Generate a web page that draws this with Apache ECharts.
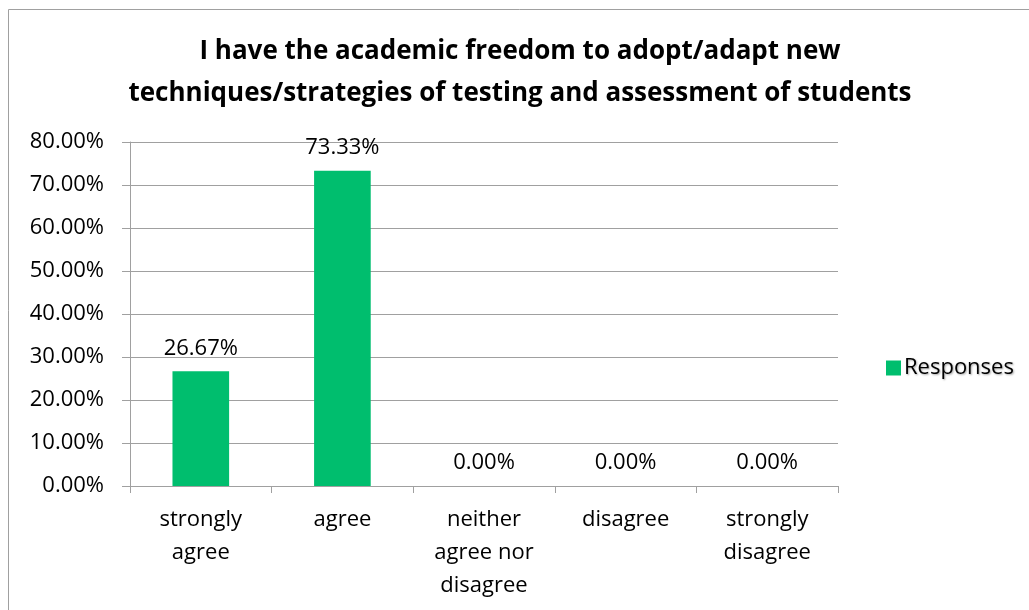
<!DOCTYPE html>
<html>
<head>
<meta charset="utf-8">
<script src="https://cdn.jsdelivr.net/npm/echarts@6/dist/echarts.min.js"></script>
<style>
html,body{margin:0;padding:0;background:#fff;}
#chart{width:1029px;height:610px;}
</style>
</head>
<body>
<div id="chart"></div>
<script>
const titleLines = ["I have the academic freedom to adopt/adapt new", "techniques/strategies of testing and assessment of students"];
const categories = ["strongly\nagree", "agree", "neither\nagree nor\ndisagree", "disagree", "strongly\ndisagree"];
const responses = [26.67, 73.33, 0, 0, 0];
const seriesName = "Responses";
const yTicks = { min: 0, max: 80, interval: 10 };

const font = "'Open Sans', 'Noto Sans', sans-serif";
const chart = echarts.init(document.getElementById('chart'));
chart.setOption({
  animation: false,
  title: {
    text: titleLines.join('\n'),
    left: 515, top: 26, textAlign: 'center',
    textStyle: { fontFamily: font, fontWeight: 'bold', fontSize: 26, lineHeight: 42, color: '#000' }
  },
  legend: {
    data: [seriesName], orient: 'vertical', left: 881, top: 352,
    itemWidth: 15, itemHeight: 15, itemGap: 8,
    textStyle: { fontFamily: font, fontSize: 22, color: '#000', padding: [0,0,0,-2],
      textShadowColor: 'rgba(0,0,0,0.35)', textShadowBlur: 2, textShadowOffsetX: 1, textShadowOffsetY: 1 },
    icon: 'rect'
  },
  graphic: [{
    type: 'rect', shape: { x: 8.5, y: 9.5, width: 1200, height: 800 },
    style: { fill: 'none', stroke: '#A0A0A0', lineWidth: 1 }, silent: true
  }],
  grid: { left: 130, right: 191, top: 142, bottom: 124 },
  xAxis: {
    type: 'category', data: categories,
    axisLine: { lineStyle: { color: '#A0A0A0', width: 1 } },
    axisTick: { show: true, length: 7, alignWithLabel: false, lineStyle: { color: '#A0A0A0' } },
    axisLabel: { fontFamily: font, fontSize: 22, lineHeight: 33, color: '#000', margin: 17, interval: 0 }
  },
  yAxis: {
    type: 'value', min: yTicks.min, max: yTicks.max, interval: yTicks.interval,
    axisLine: { show: true, lineStyle: { color: '#A0A0A0', width: 1 } },
    axisTick: { show: true, length: 8, lineStyle: { color: '#A0A0A0' } },
    splitLine: { lineStyle: { color: '#A0A0A0', width: 1 } },
    axisLabel: { fontFamily: font, fontSize: 22, color: '#000', margin: 26,
      formatter: v => v.toFixed(2) + '%' }
  },
  series: [{
    name: seriesName, type: 'bar', data: responses, barWidth: '40%',
    itemStyle: { color: '#00BE6E' },
    label: { show: true, position: 'top', distance: 12, fontFamily: font, fontSize: 22, color: '#000',
      formatter: p => p.value.toFixed(2) + '%' }
  }]
});
</script>
</body>
</html>
